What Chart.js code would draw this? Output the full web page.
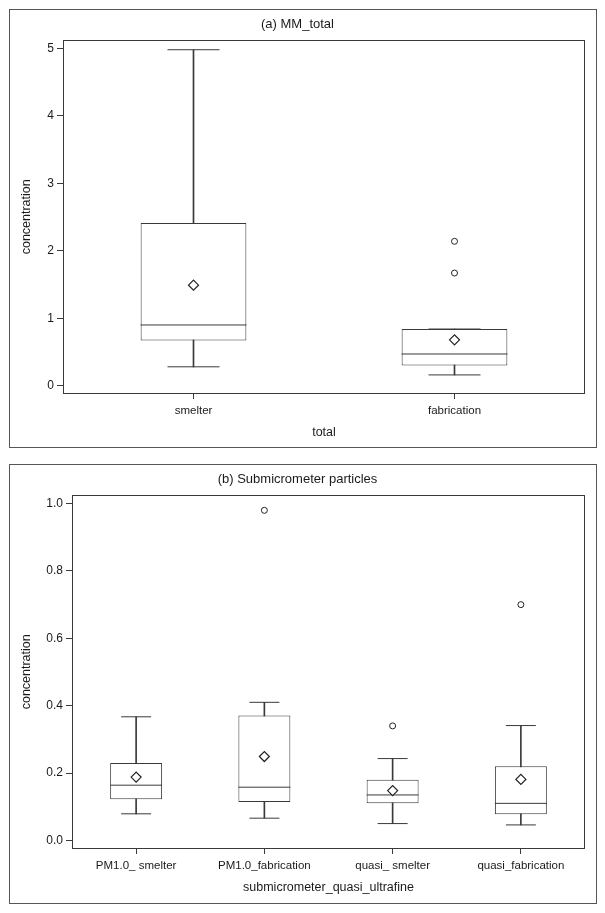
<!DOCTYPE html>
<html>
<head>
<meta charset="utf-8">
<script src="https://cdn.jsdelivr.net/npm/chart.js@4.4.1/dist/chart.umd.min.js"></script>
<style>
    body { margin: 0; background: #fff; }
    .panel { position: absolute; left: 9px; width: 588px; box-sizing: border-box; border: 1px solid #555; }
    #panelA { top: 9px; height: 439px; }
    #panelB { top: 464px; height: 440px; }
    canvas { display: block; }
</style>
</head>
<body>
<div class="panel" id="panelA"><canvas id="chartA" width="586" height="437"></canvas></div>
<div class="panel" id="panelB"><canvas id="chartB" width="586" height="438"></canvas></div>
<script>
// (a) MM_total
const totalGroups   = ["smelter", "fabrication"];
const totalMin      = [0.28, 0.16];
const totalQ1       = [0.67, 0.30];
const totalMedian   = [0.90, 0.47];
const totalQ3       = [2.41, 0.84];
const totalMax      = [4.98, 0.84];
const totalMean     = [1.49, 0.68];
const totalOutliers = [[], [1.67, 2.14]];
const totalTicks    = [0, 1, 2, 3, 4, 5];

// (b) Submicrometer particles
const subGroups   = ["PM1.0_ smelter", "PM1.0_fabrication", "quasi_ smelter", "quasi_fabrication"];
const subMin      = [0.079, 0.066, 0.050, 0.046];
const subQ1       = [0.122, 0.114, 0.110, 0.078];
const subMedian   = [0.164, 0.158, 0.135, 0.110];
const subQ3       = [0.230, 0.371, 0.180, 0.220];
const subMax      = [0.367, 0.410, 0.243, 0.341];
const subMean     = [0.188, 0.249, 0.148, 0.181];
const subOutliers = [[], [0.98], [0.34], [0.70]];
const subTicks    = [0, 0.2, 0.4, 0.6, 0.8, 1.0];

const LINE = "#3a3a3a";
const TEXT = "#1a1a1a";

Chart.defaults.font.family = "'Liberation Sans', Arial, sans-serif";
Chart.defaults.color = TEXT;
Chart.defaults.animation = false;

// Frame round the plot area
const plotFrame = {
    id: "plotFrame",
    afterDatasetsDraw(chart) {
        const a = chart.chartArea;
        const ctx = chart.ctx;
        ctx.save();
        ctx.strokeStyle = LINE;
        ctx.lineWidth = 1;
        ctx.strokeRect(Math.round(a.left) + 0.5, Math.round(a.top) + 0.5, Math.round(a.width) - 1, Math.round(a.height) - 1);
        ctx.restore();
    }
};

// Markers drawn as points on the category centres
function pointSet(values, style, radius, order) {
    return {
        type: "line",
        data: values,
        showLine: false,
        pointStyle: style,
        pointRadius: radius,
        pointHoverRadius: radius,
        pointBorderColor: LINE,
        pointBackgroundColor: "#fff",
        pointBorderWidth: 1,
        order: order
    };
}

function createBoxChart(canvasId, c) {
    let outlierPoints = [];
    c.outliers.forEach(function(list, i) {
        list.forEach(function(v) { outlierPoints.push({x: c.groups[i], y: v}); });
    });

    const datasets = [
        // whiskers
        {type: "bar", data: c.min.map((v, i) => [v, c.max[i]]), barThickness: 1,
         backgroundColor: LINE, grouped: false, order: 6},
        // boxes
        {type: "bar", data: c.q1.map((v, i) => [v, c.q3[i]]), backgroundColor: "#fff",
         borderColor: LINE, borderWidth: 1, borderSkipped: false,
         barPercentage: 0.405, categoryPercentage: 1, grouped: false, order: 5},
        pointSet(c.median, "line", c.boxHalf, 4),
        pointSet(c.min, "line", c.capHalf, 4),
        pointSet(c.max, "line", c.capHalf, 4),
        Object.assign(pointSet(c.mean, "rectRot", 5, 3), {pointBorderColor: "#222", pointBorderWidth: 1.2}),
        Object.assign(pointSet(outlierPoints, "circle", 3, 2), {pointBorderColor: "#222"})
    ];

    new Chart(document.getElementById(canvasId), {
        type: "bar",
        data: {labels: c.groups, datasets: datasets},
        options: {
            responsive: false,
            layout: {autoPadding: false, padding: {left: 0, right: 11, top: 0, bottom: 0}},
            plugins: {
                legend: {display: false},
                tooltip: {enabled: false},
                title: {
                    display: true,
                    text: c.title,
                    color: TEXT,
                    font: {size: 13, weight: "normal"},
                    padding: {top: 7, bottom: 7}
                }
            },
            scales: {
                x: {
                    type: "category",
                    offset: true,
                    border: {display: false},
                    grid: {offset: false, drawOnChartArea: false, drawTicks: true, tickLength: 5, color: LINE},
                    ticks: {font: {size: 11.5}, color: TEXT, padding: 5, maxRotation: 0, autoSkip: false},
                    title: {display: true, text: c.xTitle, color: TEXT, font: {size: 12.5},
                            padding: {top: 0, bottom: c.xTitlePad}},
                    afterFit: function(scale) { scale.height = c.xHeight; }
                },
                y: {
                    min: c.yMin,
                    max: c.yMax,
                    border: {display: false},
                    grid: {drawOnChartArea: false, drawTicks: true, tickLength: 6, color: LINE},
                    afterBuildTicks: function(scale) { scale.ticks = c.ticks.map(v => ({value: v})); },
                    ticks: {font: {size: 12}, color: TEXT, padding: 3,
                            callback: function(value) { return value.toFixed(c.decimals); }},
                    title: {display: true, text: "concentration", color: TEXT, font: {size: 12.5},
                            padding: {top: 9.5, bottom: 0}},
                    afterFit: function(scale) { scale.width = c.yWidth; }
                }
            }
        },
        plugins: [plotFrame]
    });
}

createBoxChart("chartA", {
    title: "(a) MM_total", xTitle: "total",
    groups: totalGroups, min: totalMin, q1: totalQ1, median: totalMedian, q3: totalQ3,
    max: totalMax, mean: totalMean, outliers: totalOutliers, ticks: totalTicks, decimals: 0,
    yMin: -0.123, yMax: 5.13, yWidth: 53, xHeight: 53, xTitlePad: 7,
    boxHalf: 53, capHalf: 26
});

createBoxChart("chartB", {
    title: "(b) Submicrometer particles", xTitle: "submicrometer_quasi_ultrafine",
    groups: subGroups, min: subMin, q1: subQ1, median: subMedian, q3: subQ3,
    max: subMax, mean: subMean, outliers: subOutliers, ticks: subTicks, decimals: 1,
    yMin: -0.0255, yMax: 1.0267, yWidth: 62, xHeight: 54, xTitlePad: 7.5,
    boxHalf: 26, capHalf: 15
});
</script>
</body>
</html>
